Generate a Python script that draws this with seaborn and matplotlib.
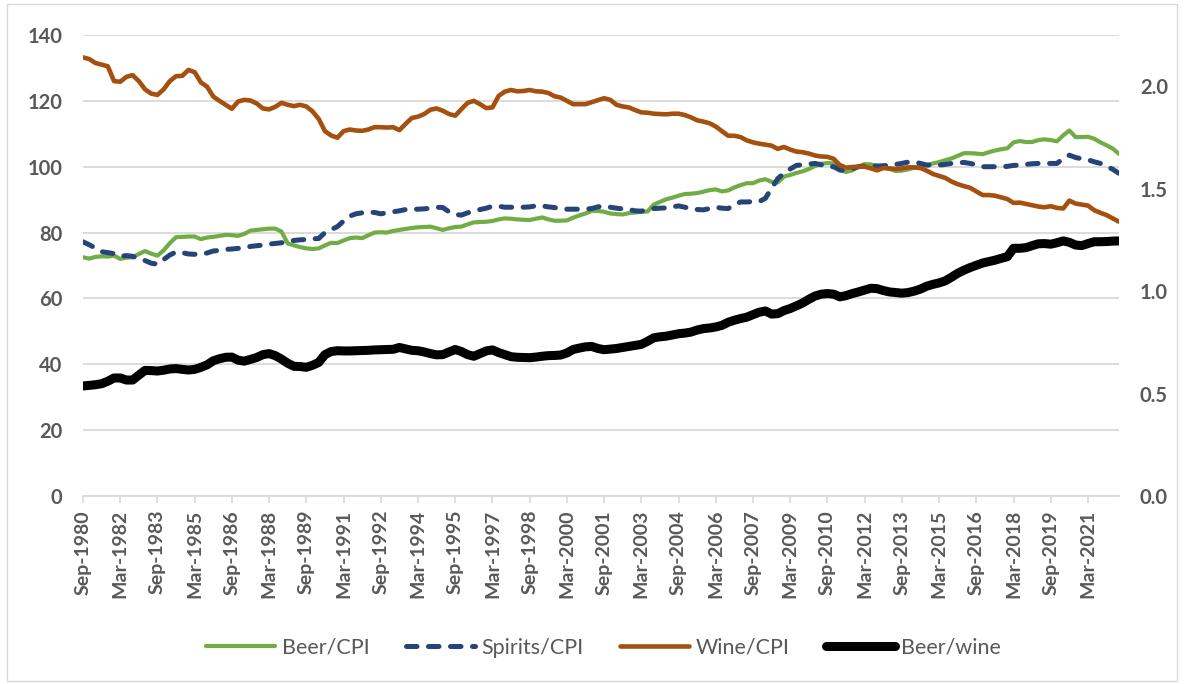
import numpy as np
import pandas as pd
import matplotlib
matplotlib.use("Agg")
import matplotlib.pyplot as plt
import seaborn as sns
from matplotlib.patches import Rectangle
from matplotlib.ticker import FormatStrFormatter

# quarterly, Sep-1980 .. Jun-2022
quarters = pd.date_range("1980-09-01", periods=168, freq="3MS")

beer_cpi = [
    72.5, 72.1, 72.6, 72.8, 72.7, 73, 72, 72.4, 72.5, 73.5, 74.4,
    73.6, 73, 74.6, 76.8, 78.6, 78.7, 78.8, 78.8, 78, 78.5, 78.7, 79, 79.3, 79.2, 79, 79.6, 80.6, 80.8,
    81, 81.2, 81.2, 80.3, 76.7, 76.1, 75.6, 75.2, 75, 75.2,
    76.1, 76.9, 76.8, 77.6, 78.3, 78.5, 78.3, 79.2, 80, 80.1, 80, 80.5, 80.8, 81.1, 81.4, 81.6, 81.7,
    81.8, 81.3, 80.8, 81.3, 81.7, 81.8, 82.5, 83.1, 83.2, 83.3, 83.5,
    84, 84.3, 84.2, 84, 83.9, 83.8, 84.2, 84.6, 84, 83.6, 83.6, 83.7, 84.5, 85.2, 85.8, 86.6, 86.6,
    86.3, 85.8, 85.6, 85.5, 85.9, 86.1, 86.3, 86.4, 88.5, 89.3,
    90.1, 90.6, 91.2, 91.7, 91.8, 92, 92.4, 92.9, 93.1, 92.5, 92.8, 93.7, 94.4, 95, 95, 95.8, 96.2,
    95.4, 95.2, 97, 97.5, 98.1, 98.6, 99.3, 100.2, 100.9, 101.1, 101,
    99, 98.4, 98.9, 100, 100.8, 100.7, 100.2, 99.8, 99.3, 98.7, 98.8, 99.2, 99.7, 100.2, 100.5, 101,
    101.4, 102, 102.5, 103.3, 104.1, 104.1, 104, 103.8, 104.4, 104.9, 105.3, 105.6,
    107.4, 107.8, 107.5, 107.5, 108.1, 108.3, 108.1, 107.7, 109.5, 111, 109, 109, 109.1, 108.5,
    107.4, 106.5, 105.5, 103.9,
]

spirits_cpi = [
    77.2, 76.3, 75.3, 74.2, 73.9, 73.6, 72.8, 73, 72.8, 72, 71.5,
    70.7, 70.4, 71.8, 73.2, 74.1, 73.9, 73.5, 73.4, 73.4, 73.8, 74.4, 74.6, 74.9, 75, 75.2, 75.4,
    75.8, 76, 76.2, 76.5, 76.7, 76.9, 77.3, 77.6, 77.8, 77.9, 78.1, 78.2,
    80, 80.9, 81.8, 83.5, 85, 85.7, 86, 86.2, 86.1, 85.7, 86, 86.3, 86.6, 87, 87.1, 87.1, 87.2,
    87.4, 87.7, 87.6, 86.3, 85.5, 85.3, 86, 86.5, 87, 87.4, 88,
    88, 87.7, 87.7, 87.7, 87.7, 87.8, 88.1, 88.1, 87.8, 87.6, 87.2, 87.1, 87.1, 87.1, 87.1, 87.3,
    87.8, 88.1, 87.7, 87.4, 87.2, 87, 86.6, 86.5, 87, 87.3, 87.4,
    87.5, 87.8, 88.1, 87.7, 87.3, 87, 86.9, 87.3, 87.7, 87.4, 87.3, 88.5, 89.3, 89.3, 89.4, 89.4,
    90.4, 93.5, 96.4, 98, 99.3, 100.4, 100.6, 100.8, 101, 100.6, 100, 100,
    99, 98.8, 99.4, 100, 100.2, 100.3, 100.2, 100.3, 100.5, 100.7, 101, 101.4, 101.4, 101, 100.5,
    100.5, 100.5, 100.7, 101, 101.2, 101.3, 101, 100.6, 100, 100, 100, 100, 100.1,
    100.4, 100.5, 100.7, 100.9, 101, 101, 101, 101, 102.5, 103.5, 102.8, 102.4, 102.1, 101.5,
    101, 100.2, 99.2, 98,
]

wine_cpi = [
    133.2, 132.7, 131.5, 131, 130.5, 126, 125.8, 127.3, 127.8, 126, 123.5,
    122.2, 121.8, 123.5, 126, 127.5, 127.6, 129.4, 128.7, 125.6, 124.3, 121.3, 120, 118.8, 117.6,
    119.8, 120.3, 120.1, 119.2, 117.7, 117.4, 118.2, 119.4, 118.8, 118.4, 118.8, 118.3, 116.8, 114.5,
    110.8, 109.5, 108.8, 110.8, 111.3, 111, 110.9, 111.3, 112, 112, 111.9, 112, 111.1, 113, 114.8,
    115.2, 116, 117.3, 117.7, 117, 116, 115.5, 117.5, 119.4, 120, 119, 117.8, 118,
    121.5, 122.8, 123.3, 122.9, 123, 123.3, 122.9, 122.8, 122.4, 121.4, 121, 120, 119, 119, 119,
    119.6, 120.2, 120.8, 120.3, 118.8, 118.3, 118, 117.2, 116.5, 116.4, 116.1, 116,
    115.9, 116.1, 116.1, 115.7, 115, 114.1, 113.7, 113.2, 112.2, 110.8, 109.4, 109.4, 109, 108,
    107.4, 107, 106.7, 106.4, 105.4, 106, 105.2, 104.6, 104.4, 104, 103.4, 103.1, 103, 102.4,
    100.5, 99.7, 99.9, 100, 100, 99.5, 98.9, 99.6, 99.5, 99.3, 99.5, 99.8, 99.8, 99.6, 98.8, 97.8,
    97.2, 96.6, 95.5, 94.7, 94.1, 93.6, 92.5, 91.4, 91.4, 91.2, 90.7, 90.2,
    89, 89.1, 88.7, 88.3, 87.9, 87.7, 88, 87.5, 87.3, 89.7, 88.8, 88.5, 88.2, 86.8, 86, 85.3,
    84.3, 83.3,
]

beer_wine = [
    0.537, 0.54, 0.543, 0.548, 0.56, 0.576, 0.576, 0.566, 0.566, 0.59, 0.613,
    0.612, 0.61, 0.614, 0.62, 0.622, 0.618, 0.615, 0.618, 0.628, 0.64, 0.66, 0.67, 0.677, 0.678,
    0.663, 0.658, 0.667, 0.676, 0.69, 0.695, 0.685, 0.668, 0.648, 0.633, 0.632, 0.628, 0.638, 0.652,
    0.69, 0.705, 0.709, 0.708, 0.708, 0.709, 0.71, 0.711, 0.713, 0.714, 0.715, 0.716, 0.725, 0.718,
    0.711, 0.709, 0.703, 0.695, 0.689, 0.69, 0.703, 0.715, 0.705, 0.69, 0.682, 0.695, 0.708, 0.713,
    0.7, 0.69, 0.68, 0.677, 0.676, 0.675, 0.678, 0.682, 0.685, 0.686, 0.688, 0.698, 0.715, 0.722,
    0.728, 0.73, 0.72, 0.714, 0.717, 0.72, 0.725, 0.73, 0.735, 0.74, 0.755, 0.772, 0.777,
    0.78, 0.786, 0.792, 0.795, 0.8, 0.81, 0.817, 0.82, 0.825, 0.833, 0.848, 0.858, 0.866, 0.873,
    0.885, 0.897, 0.903, 0.888, 0.89, 0.905, 0.915, 0.928, 0.942, 0.96, 0.976, 0.985, 0.988, 0.985,
    0.972, 0.978, 0.988, 0.996, 1.005, 1.014, 1.012, 1.003, 0.996, 0.993, 0.99, 0.993, 1.0, 1.01,
    1.024, 1.033, 1.04, 1.05, 1.068, 1.087, 1.102, 1.115, 1.126, 1.137, 1.144, 1.151, 1.16, 1.168,
    1.209, 1.209, 1.212, 1.222, 1.231, 1.232, 1.229, 1.236, 1.245, 1.238, 1.225, 1.222, 1.232,
    1.241, 1.241, 1.242, 1.244, 1.245,
]

df = pd.DataFrame({
    "pos": np.arange(len(quarters)),
    "Beer/CPI": beer_cpi,
    "Spirits/CPI": spirits_cpi,
    "Wine/CPI": wine_cpi,
    "Beer/wine": beer_wine,
})

sns.set_style("white")
plt.rcParams["font.family"] = ["Lato", "DejaVu Sans"]

GREY = "#595959"
GRID = "#D9D9D9"
colors = {"Beer/CPI": "#70AD47", "Spirits/CPI": "#264478",
          "Wine/CPI": "#A5500F", "Beer/wine": "#000000"}
widths = {"Beer/CPI": 3.0, "Spirits/CPI": 3.6, "Wine/CPI": 3.3, "Beer/wine": 6.5}

fig = plt.figure(figsize=(11.84, 6.84), dpi=100)
ax = fig.add_axes([83 / 1184, 1 - 496 / 684, 1036 / 1184, 461 / 684])
ax2 = ax.twinx()

# thin chart-area border
fig.patches.append(Rectangle((7 / 1184, 3 / 684), 1170 / 1184, 677 / 684,
                             transform=fig.transFigure, fill=False,
                             edgecolor=GRID, lw=1.0))

handles = []
for name in ["Beer/CPI", "Spirits/CPI", "Wine/CPI"]:
    sns.lineplot(data=df, x="pos", y=name, ax=ax, color=colors[name],
                 lw=widths[name], label=name, legend=False)
    line = ax.lines[-1]
    line.set_solid_capstyle("round")
    line.set_solid_joinstyle("round")
    if name == "Spirits/CPI":
        line.set_dashes((2.1, 2.3))
        line.set_dash_capstyle("round")
    handles.append(line)

sns.lineplot(data=df, x="pos", y="Beer/wine", ax=ax2, color=colors["Beer/wine"],
             lw=widths["Beer/wine"], label="Beer/wine", legend=False)
bw = ax2.lines[-1]
bw.set_solid_capstyle("round")
bw.set_solid_joinstyle("round")
handles.append(bw)

# axes limits and ticks
ax.set_xlim(0, len(quarters) - 1)
ax.set_ylim(0, 140)
ax.set_yticks(range(0, 141, 20))
ax2.set_ylim(0, 2.25)
ax2.set_yticks([0, 0.5, 1.0, 1.5, 2.0])
ax2.yaxis.set_major_formatter(FormatStrFormatter("%.1f"))

tick_pos = list(range(0, len(quarters), 6))
ax.set_xticks(tick_pos)
ax.set_xticklabels([quarters[i].strftime("%b-%Y") for i in tick_pos], rotation=90)

ax.set_xlabel("")
ax.set_ylabel("")
ax2.set_ylabel("")

ax.yaxis.grid(True, color=GRID, lw=1.3)
ax.set_axisbelow(True)
for a in (ax, ax2):
    for side in ["top", "left", "right", "bottom"]:
        a.spines[side].set_visible(False)
ax.spines["bottom"].set_visible(True)
ax.spines["bottom"].set_color(GRID)
ax.spines["bottom"].set_linewidth(1.3)

ax.tick_params(axis="x", direction="out", length=5, width=1.2, color=GRID,
               pad=5, labelsize=14, labelcolor=GREY, bottom=True)
ax.tick_params(axis="y", length=0, pad=15, labelsize=14.5, labelcolor=GREY)
ax2.tick_params(axis="y", length=0, pad=15, labelsize=14.5, labelcolor=GREY)
for lab in ax.get_xticklabels() + ax.get_yticklabels() + ax2.get_yticklabels():
    lab.set_fontweight("bold")

fig.legend(handles=handles, labels=[h.get_label() for h in handles],
           loc="center", bbox_to_anchor=(0.51, 0.053), ncol=4, frameon=False,
           fontsize=15.5, handlelength=3.2, handletextpad=0.3, columnspacing=1.7,
           labelcolor=GREY)

fig.savefig("out.png", dpi=100)
